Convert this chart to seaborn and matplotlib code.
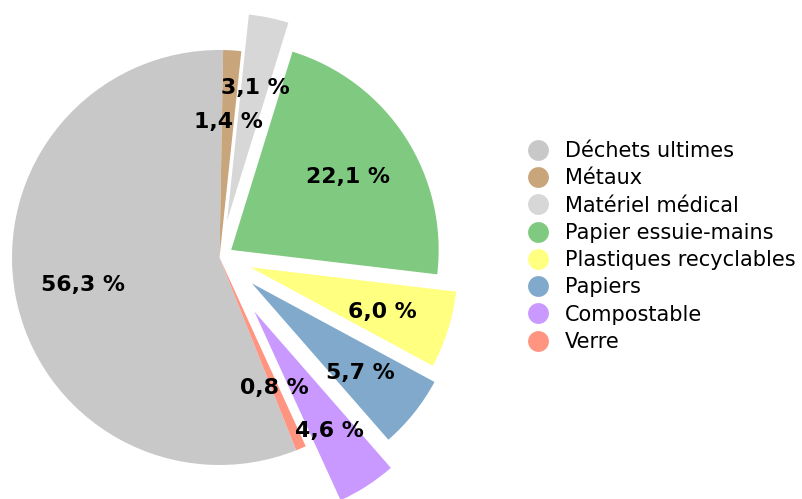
import matplotlib
matplotlib.use("Agg")
import matplotlib.pyplot as plt
from matplotlib.lines import Line2D
import seaborn as sns

categories = ["Déchets ultimes", "Métaux", "Matériel médical", "Papier essuie-mains",
              "Plastiques recyclables", "Papiers", "Compostable", "Verre"]
shares = [56.3, 1.4, 3.1, 22.1, 6.0, 5.7, 4.6, 0.8]
colors = ["#c8c8c8", "#c9a57c", "#d7d7d7", "#80c980", "#ffff80", "#80a9cb", "#c999ff", "#ff9480"]
explode = [0.0, 0.0, 0.18, 0.067, 0.155, 0.2, 0.31, 0.0]

sns.set_theme(style="white")
plt.rcParams["font.family"] = ["DejaVu Sans"]

W, H = 802, 499
fig = plt.figure(figsize=(W / 100, H / 100), dpi=100)

# pie centre and radius in pixels
cx, cy, R = 219.5, 257.5, 207.5
ax_w = 500
ax = fig.add_axes([0, 0, ax_w / W, 1])

start = 89.0 + shares[0] / 100 * 360
wedges, texts, autotexts = ax.pie(
    shares, colors=colors, explode=explode, startangle=start, counterclock=False,
    autopct=lambda p: f"{p:.1f} %".replace(".", ","), pctdistance=0.67,
    wedgeprops=dict(linewidth=0),
    textprops=dict(fontsize=15.8, fontweight="bold", color="black"),
)
ax.set_aspect("auto")
cy_b = H - cy
ax.set_xlim(-cx / R, (ax_w - cx) / R)
ax.set_ylim(-cy_b / R, (H - cy_b) / R)
ax.axis("off")

# nudge percentage labels so the digits sit centred on their anchor
for t in autotexts:
    x, y = t.get_position()
    t.set_position((x, y - 3.0 / R))

handles = [Line2D([], [], marker="o", linestyle="none", markersize=15,
                  markerfacecolor=c, markeredgewidth=0) for c in colors]
fig.legend(handles, categories, loc="upper left",
           bbox_to_anchor=(525.5 / W, 1 - 141 / H), frameon=False,
           fontsize=15, labelspacing=0.35, handletextpad=0.7, handlelength=1.2,
           borderaxespad=0, borderpad=0, labelcolor="black")

fig.savefig("out.png", dpi=100)
